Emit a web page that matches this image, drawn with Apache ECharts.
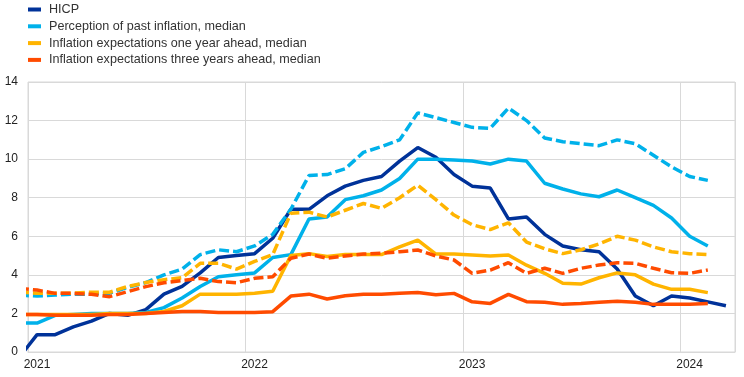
<!DOCTYPE html>
<html>
<head>
<meta charset="utf-8">
<script src="https://cdn.jsdelivr.net/npm/echarts@6/dist/echarts.min.js"></script>
<style>
  html, body { margin: 0; padding: 0; background: #fff; }
  #chart { width: 744px; height: 377px; }
</style>
</head>
<body>
<div id="chart"></div>
<script>
// months Dec 2020 .. Mar 2024
const months = ['2020-12',
  '2021-01', '2021-02', '2021-03', '2021-04', '2021-05', '2021-06', '2021-07', '2021-08', '2021-09', '2021-10', '2021-11', '2021-12',
  '2022-01', '2022-02', '2022-03', '2022-04', '2022-05', '2022-06', '2022-07', '2022-08', '2022-09', '2022-10', '2022-11', '2022-12',
  '2023-01', '2023-02', '2023-03', '2023-04', '2023-05', '2023-06', '2023-07', '2023-08', '2023-09', '2023-10', '2023-11', '2023-12',
  '2024-01', '2024-02', '2024-03']

const yearTicks = ['2021', '2022', '2023', '2024']

const hicp = [-0.3,
  0.9, 0.9, 1.3, 1.6, 2.0, 1.9, 2.2, 3.0, 3.4, 4.1, 4.9, 5.0,
  5.1, 5.9, 7.4, 7.4, 8.1, 8.6, 8.9, 9.1, 9.9, 10.6, 10.1, 9.2,
  8.6, 8.5, 6.9, 7.0, 6.1, 5.5, 5.3, 5.2, 4.3, 2.9, 2.4, 2.9,
  2.8, 2.6, 2.4]

// survey medians (solid)
const pastMedian = [1.5,
  1.5, 1.9, 1.95, 2.0, 2.0, 2.0, 2.05, 2.3, 2.8, 3.4, 3.9, 4.0,
  4.1, 4.9, 5.05, 6.9, 7.0, 7.9, 8.1, 8.4, 9.0, 10.0, 10.0, 9.95,
  9.9, 9.75, 10.0, 9.9, 8.75, 8.45, 8.2, 8.05, 8.4, 8.0, 7.6, 6.95,
  6.0, 5.5]
const oneYearMedian = [1.95,
  1.95, 1.95, 1.95, 1.95, 2.0, 2.0, 2.0, 2.1, 2.4, 3.0, 3.0, 3.0,
  3.05, 3.15, 5.0, 5.1, 4.95, 5.05, 5.05, 5.05, 5.45, 5.8, 5.08, 5.08,
  5.03, 4.98, 5.03, 4.5, 4.08, 3.56, 3.52, 3.85, 4.1, 4.0, 3.52, 3.25,
  3.25, 3.08]
const threeYearMedian = [1.95,
  1.95, 1.9, 1.9, 1.9, 1.95, 1.95, 2.0, 2.05, 2.1, 2.1, 2.05, 2.05,
  2.05, 2.09, 2.9, 3.0, 2.75, 2.92, 3.0, 3.0, 3.04, 3.08, 2.97, 3.04,
  2.6, 2.52, 2.99, 2.61, 2.58, 2.47, 2.52, 2.58, 2.63, 2.58, 2.47, 2.47,
  2.47, 2.52]

// survey means (dashed)
const pastMean = [2.95,
  2.9, 2.95, 3.0, 3.0, 3.05, 3.35, 3.6, 4.0, 4.3, 5.05, 5.3, 5.2,
  5.5, 6.1, 7.4, 9.15, 9.2, 9.5, 10.35, 10.65, 11.0, 12.4, 12.15, 11.9,
  11.65, 11.6, 12.65, 12.0, 11.1, 10.9, 10.8, 10.7, 11.0, 10.8, 10.2, 9.6,
  9.1, 8.9]
const oneYearMean = [3.1,
  3.05, 3.05, 3.05, 3.1, 3.1, 3.4, 3.6, 3.75, 3.85, 4.6, 4.6, 4.3,
  4.7, 5.05, 7.2, 7.25, 7.0, 7.35, 7.7, 7.45, 8.0, 8.65, 7.9, 7.1,
  6.6, 6.35, 6.7, 5.7, 5.35, 5.1, 5.3, 5.6, 6.0, 5.8, 5.45, 5.2,
  5.1, 5.05]
const threeYearMean = [3.3,
  3.21, 3.04, 3.04, 2.99, 2.87, 3.13, 3.39, 3.59, 3.7, 3.82, 3.65, 3.59,
  3.82, 3.9, 4.86, 5.08, 4.86, 4.98, 5.08, 5.12, 5.2, 5.29, 4.98, 4.77,
  4.08, 4.25, 4.63, 4.08, 4.34, 4.08, 4.34, 4.51, 4.63, 4.6, 4.34, 4.11,
  4.08, 4.25]

// month position on the axis: Jan 2021 starts at 0, points sit mid-month
function monthPos(m) {
  const parts = m.split('-')
  return (Number(parts[0]) - 2021) * 12 + Number(parts[1]) - 1 + 0.5
}
function pairs(values) {
  return values.map((v, i) => [monthPos(months[i]), v])
}

const blue = '#003299'
const lightBlue = '#00b1ea'
const yellow = '#ffb400'
const orange = '#ff4b00'

function line(name, color, values, dashed) {
  return {
    name: name,
    type: 'line',
    showSymbol: false,
    symbol: 'none',
    clip: true,
    data: pairs(values),
    lineStyle: {
      color: color,
      width: 3.5,
      type: dashed ? [10, 4] : 'solid',
      cap: 'butt'
    },
    itemStyle: { color: color },
    emphasis: { disabled: true }
  }
}

const chart = echarts.init(document.getElementById('chart'), null, { renderer: 'canvas' })
chart.setOption({
  animation: false,
  backgroundColor: '#fff',
  textStyle: { fontFamily: 'Arial, "Liberation Sans", sans-serif' },
  legend: {
    orient: 'vertical',
    left: 28,
    top: 3,
    padding: 0,
    itemWidth: 13,
    itemHeight: 4,
    itemGap: 3.8,
    icon: 'rect',
    data: [
      'HICP',
      'Perception of past inflation, median',
      'Inflation expectations one year ahead, median',
      'Inflation expectations three years ahead, median'
    ],
    textStyle: { fontSize: 12.6, color: '#333', padding: [0, 0, 0, 3] }
  },
  grid: {
    left: 28,
    right: 9,
    top: 82,
    bottom: 25,
    show: true,
    borderColor: '#d9d9d9',
    borderWidth: 1
  },
  xAxis: {
    type: 'value',
    min: 0,
    max: 39,
    interval: 12,
    axisLine: { lineStyle: { color: '#d9d9d9' } },
    axisTick: { show: false },
    splitLine: { show: true, lineStyle: { color: '#d9d9d9' } },
    axisLabel: {
      color: '#222',
      fontSize: 12,
      margin: 7,
      padding: [0, 0, 0, 18],
      showMaxLabel: false,
      formatter(value) {
        return yearTicks[value / 12] || ''
      }
    }
  },
  yAxis: {
    type: 'value',
    min: 0,
    max: 14,
    interval: 2,
    axisLine: { show: false },
    axisTick: { show: false },
    splitLine: { lineStyle: { color: '#d9d9d9' } },
    axisLabel: { color: '#222', fontSize: 12, margin: 10 }
  },
  series: [
    line('HICP', blue, hicp, false),
    line('Perception of past inflation, median', lightBlue, pastMedian, false),
    line('Inflation expectations one year ahead, median', yellow, oneYearMedian, false),
    line('Inflation expectations three years ahead, median', orange, threeYearMedian, false),
    line('Perception of past inflation, mean', lightBlue, pastMean, true),
    line('Inflation expectations one year ahead, mean', yellow, oneYearMean, true),
    line('Inflation expectations three years ahead, mean', orange, threeYearMean, true)
  ]
})
</script>
</body>
</html>
